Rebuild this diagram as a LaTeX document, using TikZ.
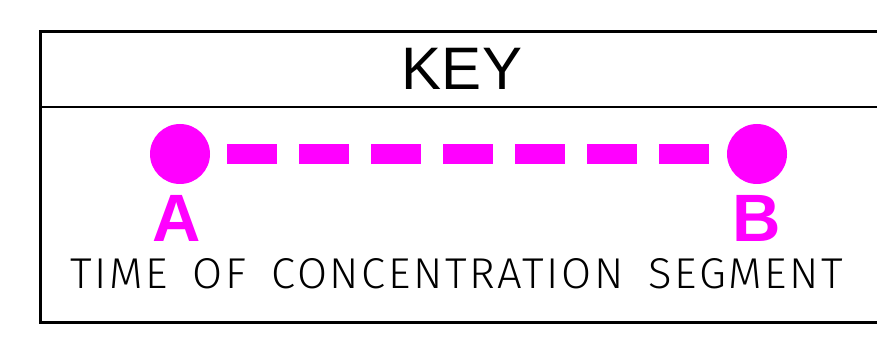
\documentclass[tikz,border=0pt]{standalone}
\usepackage{fontspec}
\usepackage{graphicx}
\setmainfont{Liberation Sans}
\newfontfamily\thinfont{Fira Sans Light}[LetterSpace=6,WordSpace=1.7]
\definecolor{keymag}{RGB}{255,0,255}
\begin{document}
\begin{tikzpicture}[x=1pt,y=-1pt,
  frameline/.style={line width=3pt,line join=miter},
  dot/.style={circle,fill=keymag,minimum size=60pt,inner sep=0pt},
  seg/.style={keymag,line width=20pt,dash pattern=on 50pt off 22pt},
  ptlabel/.style={keymag,font=\fontsize{67}{67}\selectfont\bfseries,anchor=base,inner sep=0pt},
  title/.style={font=\fontsize{60}{60}\selectfont,anchor=base,inner sep=0pt},
  caption/.style={anchor=base west,inner sep=0pt}]
\useasboundingbox (0,0) rectangle (877,347);
\clip (0,0) rectangle (877,347);
\draw[frameline] (890,31.5) -- (40.5,31.5) -- (40.5,322.5) -- (890,322.5);
\draw[line width=2pt] (40.5,107.5) -- (890,107.5);
\node[title] (key) at (462,90) {KEY};
\node[dot] (a) at (180,154) {};
\node[dot] (b) at (757,154) {};
\draw[seg] ([xshift=17pt]a.east) -- ([xshift=-18pt]b.west);
\node[ptlabel] (la) at (177,241) {A};
\node[ptlabel] (lb) at (757,241) {B};
\node[caption] (cap) at (70,288) {\resizebox{773pt}{30pt}{\thinfont\fontsize{43}{43}\selectfont TIME OF CONCENTRATION SEGMENT}};
\end{tikzpicture}
\end{document}
